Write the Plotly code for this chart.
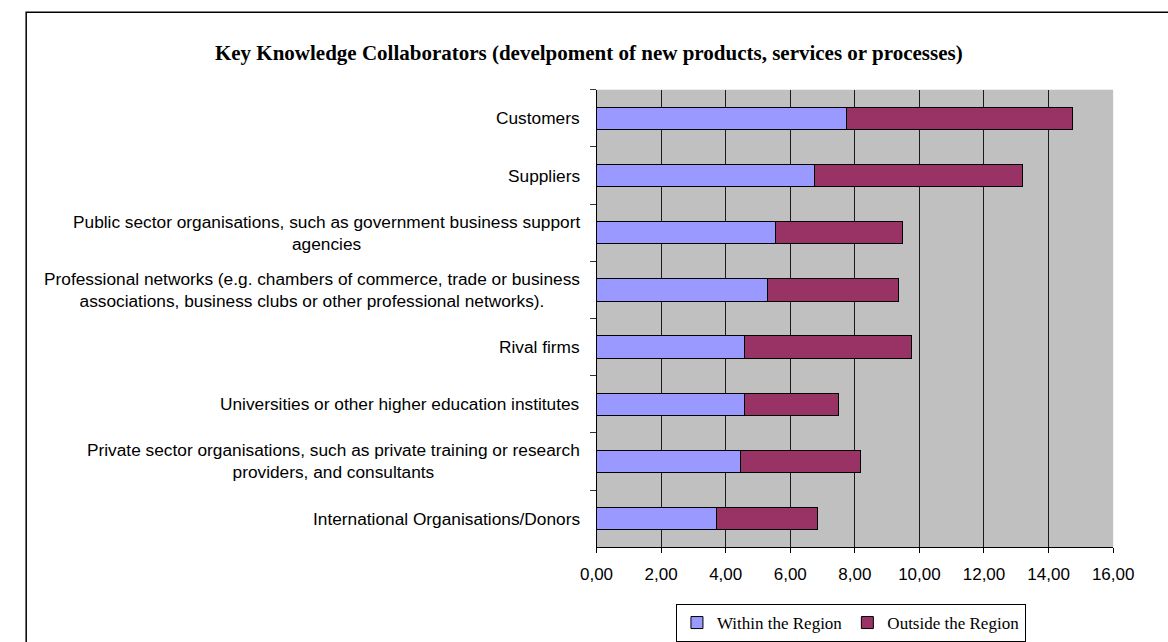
import plotly.graph_objects as go

# Collaborator categories, top to bottom
categories = [
    "Customers",
    "Suppliers",
    "Public sector organisations, such as government business support<br>agencies",
    "Professional networks (e.g. chambers of commerce, trade or business<br>associations, business clubs or other professional networks).",
    "Rival firms",
    "Universities or other higher education institutes",
    "Private sector organisations, such as private training or research<br>providers, and consultants",
    "International Organisations/Donors",
]

within_region = [7.74, 6.74, 5.53, 5.30, 4.59, 4.59, 4.47, 3.72]
outside_region = [7.00, 6.46, 3.95, 4.05, 5.17, 2.91, 3.71, 3.11]

x_ticks = [0, 2, 4, 6, 8, 10, 12, 14, 16]

W, H = 1168, 642
plot_left, plot_right = 599, 1133
plot_top, plot_bottom = 90.7, 553.3

SANS = "Liberation Sans, Arial, sans-serif"
SERIF = "Liberation Serif, Times New Roman, serif"

fig = go.Figure()
fig.add_trace(go.Bar(
    y=categories, x=within_region, orientation="h", name="Within the Region",
    marker=dict(color="#9999FF", line=dict(color="#000000", width=1)),
))
fig.add_trace(go.Bar(
    y=categories, x=outside_region, orientation="h", name="Outside the Region",
    marker=dict(color="#993366", line=dict(color="#000000", width=1)),
))

# Category labels, centred line by line, right-aligned against the axis
for cat in categories:
    fig.add_annotation(
        x=(plot_left - 15) / W, xref="paper", xanchor="right",
        y=cat, yref="y", yanchor="middle",
        text=cat, showarrow=False, align="center",
        font=dict(family=SANS, size=17.3, color="#000000"),
    )

# Chart frame
fig.add_shape(
    type="rect", xref="paper", yref="paper",
    x0=9.5 / W, x1=1.02, y0=-0.02, y1=1 - 12.5 / H,
    line=dict(color="#000000", width=1.5), fillcolor="rgba(0,0,0,0)",
    layer="below",
)

fig.update_layout(
    width=W, height=H,
    margin=dict(l=0, r=0, t=0, b=0),
    paper_bgcolor="#FFFFFF",
    plot_bgcolor="#C0C0C0",
    barmode="stack",
    bargap=0.61,
    separators=",.",
    showlegend=True,
    title=dict(
        text="<b>Key Knowledge Collaborators (develpoment of new products, services or processes)</b>",
        x=591 / W, xanchor="center", xref="paper",
        y=1 - 53.5 / H, yanchor="middle", yref="paper",
        font=dict(family=SERIF, size=21, color="#000000"),
    ),
    legend=dict(
        orientation="h",
        x=862 / W, xanchor="center",
        y=(H - 611) / H, yanchor="top",
        bordercolor="#000000", borderwidth=1, bgcolor="#FFFFFF",
        font=dict(family=SERIF, size=17, color="#000000"),
        itemwidth=30, traceorder="normal",
    ),
    xaxis=dict(
        domain=[plot_left / W, plot_right / W],
        range=[0, 16], tickvals=x_ticks, tickformat=".2f",
        showgrid=True, gridcolor="#1a1a1a", gridwidth=1,
        zeroline=False,
        showline=True, linecolor="#000000", linewidth=1,
        ticks="outside", ticklen=5, tickcolor="#000000",
        tickfont=dict(family=SANS, size=17, color="#000000"),
        ticklabelstandoff=6,
        anchor="y",
    ),
    yaxis=dict(
        domain=[(H - plot_bottom) / H, (H - plot_top) / H],
        type="category", categoryorder="array", categoryarray=categories,
        autorange="reversed",
        showticklabels=False,
        showgrid=False, zeroline=False,
        showline=True, linecolor="#000000", linewidth=1,
        ticks="outside", ticklen=6, tickcolor="#333333", tickson="boundaries",
        anchor="x",
    ),
)

fig.write_html("out.html")
